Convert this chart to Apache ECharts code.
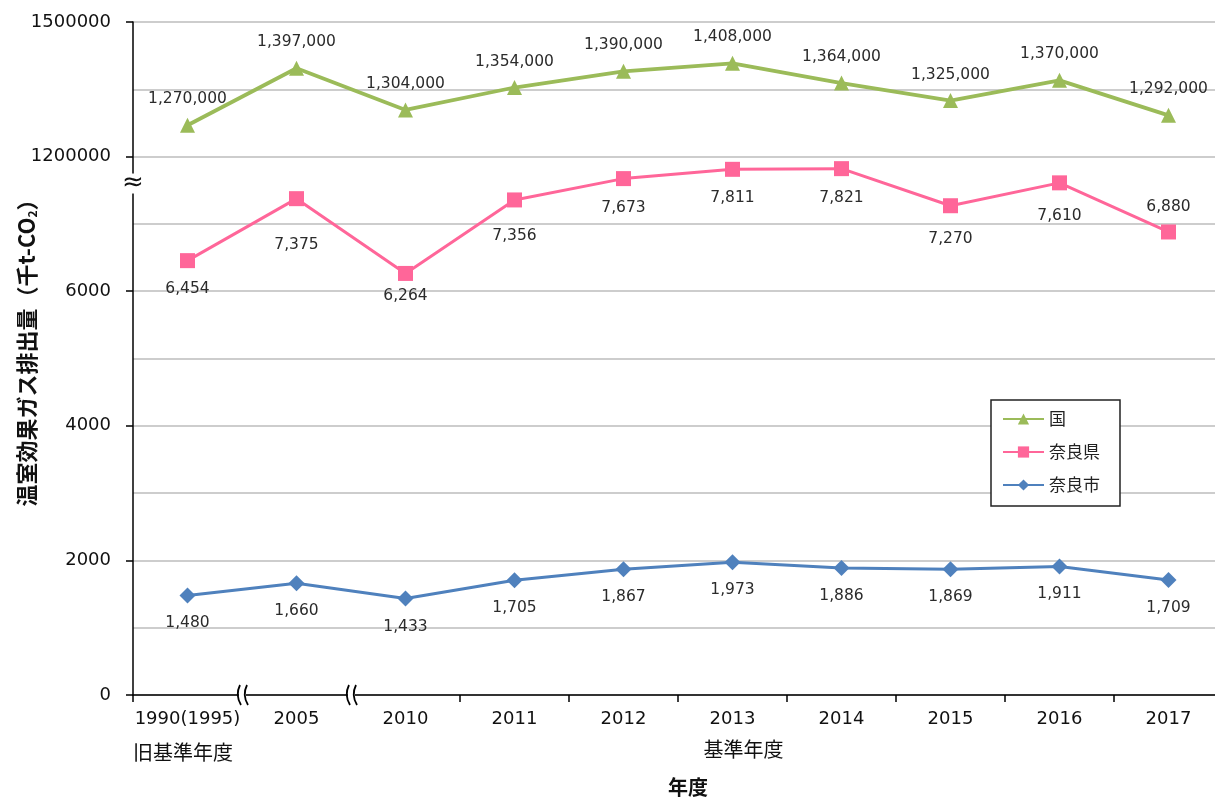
<!DOCTYPE html>
<html lang="ja">
<head>
<meta charset="utf-8">
<title>温室効果ガス排出量</title>
<script src="https://cdn.jsdelivr.net/npm/echarts@6/dist/echarts.min.js"></script>
<style>
  html, body { margin: 0; padding: 0; background: #fff; }
  #chart { width: 1215px; height: 800px; }
</style>
</head>
<body>
<div id="chart"></div>
<script>
// 年度
const categories = ['1990(1995)', '2005', '2010', '2011', '2012', '2013', '2014', '2015', '2016', '2017'];
// 国（千t-CO2）
const national = [1270000, 1397000, 1304000, 1354000, 1390000, 1408000, 1364000, 1325000, 1370000, 1292000];
// 奈良県（千t-CO2）
const naraPref = [6454, 7375, 6264, 7356, 7673, 7811, 7821, 7270, 7610, 6880];
// 奈良市（千t-CO2）
const naraCity = [1480, 1660, 1433, 1705, 1867, 1973, 1886, 1869, 1911, 1709];
// 上段の目盛ラベル（軸上の位置 → 表示値）
const upperTickLabels = { 8000: '1200000', 10000: '1500000' };

// 縦軸は途中で省略：下段は 0〜約7,600 をそのまま、上段は 1,200,000〜1,500,000 を 8000〜10000 に割り当てる
const UPPER_BASE = 1200000, UPPER_AXIS = 8000, UPPER_STEP = 150;
const toAxis = v => v >= 1000000 ? UPPER_AXIS + (v - UPPER_BASE) / UPPER_STEP : v;
const fmt = v => v.toLocaleString('en-US');

// 奈良県ラベルの縦方向のずらし量（px）
const prefLabelDy = [28, 46, 23, 36, 29, 29, 29, 33, 33, -25];

const NUM_FONT = '"DejaVu Sans", "Noto Sans CJK JP", sans-serif';
const JP_FONT = '"Noto Sans CJK JP", "DejaVu Sans", sans-serif';
const labelBase = { show: true, fontFamily: NUM_FONT, fontSize: 15.5, color: '#2b2b2b' };

const chart = echarts.init(document.getElementById('chart'), null, { renderer: 'canvas' });

const option = {
  backgroundColor: '#fff',
  animation: false,
  grid: { left: 133, right: -8, top: 22, bottom: 105, outerBoundsMode: 'none', containLabel: false },
  legend: {
    orient: 'vertical',
    left: 991,
    top: 400,
    backgroundColor: '#fff',
    borderColor: '#222',
    borderWidth: 1.5,
    borderRadius: 0,
    padding: [9, 20, 11, 11],
    itemWidth: 41,
    itemHeight: 14,
    itemGap: 13,
    textStyle: { fontFamily: JP_FONT, fontSize: 17, color: '#222', lineHeight: 20 },
    data: ['国', '奈良県', '奈良市']
  },
  xAxis: {
    type: 'category',
    data: categories,
    boundaryGap: true,
    axisLine: { lineStyle: { color: '#000', width: 1.5 } },
    axisTick: { show: true, length: 7, lineStyle: { color: '#000', width: 1.5 } },
    axisLabel: { fontFamily: NUM_FONT, fontSize: 18, color: '#111', margin: 15, interval: 0 },
    name: '年度',
    nameLocation: 'middle',
    nameGap: 82,
    nameTextStyle: { fontFamily: JP_FONT, fontSize: 20, fontWeight: 'bold', color: '#111', padding: [0, 0, 0, 20] }
  },
  yAxis: {
    type: 'value',
    min: 0,
    max: 10000,
    interval: 2000,
    axisLine: { show: true, lineStyle: { color: '#000', width: 1.5 } },
    axisTick: { show: true, length: 7, lineStyle: { color: '#000', width: 1.5 } },
    axisLabel: {
      fontFamily: NUM_FONT, fontSize: 18, color: '#111', margin: 22,
      formatter: v => upperTickLabels[v] || String(v)
    },
    splitLine: { show: true, lineStyle: { color: '#bdbdbd', width: 1.5 } },
    minorTick: { show: false, splitNumber: 2 },
    minorSplitLine: { show: true, lineStyle: { color: '#bdbdbd', width: 1.5 } }
  },
  series: [
    {
      name: '国',
      type: 'line',
      data: national.map(toAxis),
      symbol: 'triangle',
      symbolSize: 15,
      color: '#9BBB59',
      lineStyle: { width: 3.8, color: '#9BBB59' },
      itemStyle: { color: '#9BBB59' },
      label: Object.assign({}, labelBase, {
        position: 'inside', offset: [0, -26],
        formatter: p => fmt(national[p.dataIndex])
      }),
      z: 3
    },
    {
      name: '奈良県',
      type: 'line',
      data: naraPref.map((v, i) => ({
        value: v,
        label: Object.assign({}, labelBase, { position: 'inside', offset: [0, prefLabelDy[i]] })
      })),
      symbol: 'rect',
      symbolSize: 15,
      color: '#FF6699',
      lineStyle: { width: 3, color: '#FF6699' },
      itemStyle: { color: '#FF6699' },
      label: Object.assign({}, labelBase, {
        position: 'inside',
        formatter: p => fmt(naraPref[p.dataIndex])
      }),
      z: 3
    },
    {
      name: '奈良市',
      type: 'line',
      data: naraCity,
      symbol: 'diamond',
      symbolSize: 16,
      color: '#4F81BD',
      lineStyle: { width: 3, color: '#4F81BD' },
      itemStyle: { color: '#4F81BD' },
      label: Object.assign({}, labelBase, {
        position: 'inside', offset: [0, 28],
        formatter: p => fmt(naraCity[p.dataIndex])
      }),
      z: 3
    }
  ]
};

chart.setOption(option);

// 軸の省略記号、縦軸タイトル、横軸下の区分ラベル
const x0 = chart.convertToPixel({ xAxisIndex: 0 }, 0);
const x1 = chart.convertToPixel({ xAxisIndex: 0 }, 1);
const cw = x1 - x0;
const axisLeft = x0 - cw / 2;
const axisBottom = chart.convertToPixel({ yAxisIndex: 0 }, 0);
const axisTop = chart.convertToPixel({ yAxisIndex: 0 }, 10000);
const yBreak = chart.convertToPixel({ yAxisIndex: 0 }, 7600);

const graphics = [];
// 縦軸タイトル
graphics.push({
  type: 'text', z: 50,
  x: 27, y: (axisTop + axisBottom) / 2 - 11,
  rotation: Math.PI / 2,
  style: {
    text: '{a|温室効果ガス排出量（千t-CO}{s|2}{a|）}',
    align: 'center', verticalAlign: 'middle',
    rich: {
      a: { fontFamily: JP_FONT, fontSize: 22, fontWeight: 'bold', fill: '#111' },
      s: { fontFamily: JP_FONT, fontSize: 12, fontWeight: 'bold', fill: '#111', padding: [10, 0, 0, 0] }
    }
  }
});
// 縦軸の省略記号
graphics.push({
  type: 'rect', z: 100,
  shape: { x: axisLeft - 4, y: yBreak - 10, width: 8, height: 20 },
  style: { fill: '#fff' }
});
graphics.push({
  type: 'text', z: 101,
  x: axisLeft, y: yBreak,
  style: { text: '≈', fill: '#111', font: '26px "DejaVu Sans"', align: 'center', verticalAlign: 'middle' }
});
// 横軸の省略記号（1990(1995)〜2005、2005〜2010 の間）
[1, 2].forEach(k => {
  const bx = axisLeft + k * cw;
  graphics.push({
    type: 'rect', z: 100,
    shape: { x: bx - 3, y: axisBottom - 8, width: 7, height: 16 },
    style: { fill: '#fff' }
  });
  [bx - 3, bx + 4].forEach(sx => {
    graphics.push({
      type: 'bezierCurve', z: 101,
      shape: {
        x1: sx + 1, y1: axisBottom - 10,
        x2: sx + 2, y2: axisBottom + 10,
        cpx1: sx - 4, cpy1: axisBottom
      },
      style: { stroke: '#000', lineWidth: 1.8, fill: null }
    });
  });
});
// 区分ラベル
graphics.push({
  type: 'text', z: 50,
  x: axisLeft, y: axisBottom + 57,
  style: { text: '旧基準年度', fill: '#111', font: '20px "Noto Sans CJK JP"', align: 'left', verticalAlign: 'middle' }
});
graphics.push({
  type: 'text', z: 50,
  x: axisLeft + 5.6 * cw, y: axisBottom + 54,
  style: { text: '基準年度', fill: '#111', font: '20px "Noto Sans CJK JP"', align: 'center', verticalAlign: 'middle' }
});

chart.setOption({ graphic: graphics });
</script>
</body>
</html>
